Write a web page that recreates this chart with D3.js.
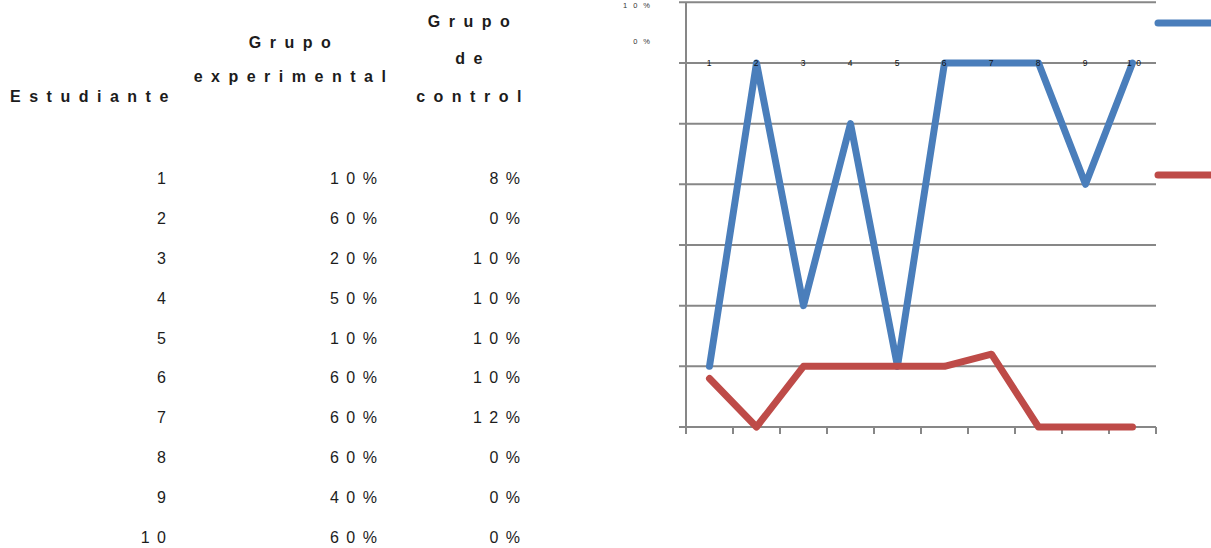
<!DOCTYPE html>
<html>
<head>
<meta charset="utf-8">
<script src="https://cdn.jsdelivr.net/npm/d3@7"></script>
<style>
  html, body { margin: 0; padding: 0; background: #fff; }
  svg { display: block; }
</style>
</head>
<body>
<svg id="chart" width="1211" height="548"></svg>
<script>
// Students and their scores per group
const students = [1, 2, 3, 4, 5, 6, 7, 8, 9, 10];
const experimental = [0.10, 0.60, 0.20, 0.50, 0.10, 0.60, 0.60, 0.60, 0.40, 0.60];
const control = [0.08, 0.00, 0.10, 0.10, 0.10, 0.10, 0.12, 0.00, 0.00, 0.00];
const headers = [
  ["Estudiante"],
  ["Grupo", "experimental"],
  ["Grupo", "de", "control"]
];
const yTickLabels = ["10%", "0%"];
const yGridValues = [0, 0.1, 0.2, 0.3, 0.4, 0.5, 0.6, 0.7];

const svg = d3.select("#chart");
const font = "'Liberation Sans', Arial, sans-serif";
const ink = "#1c1c1c";

// ---------- Table ----------
const table = svg.append("g").attr("font-family", font).attr("fill", ink);

const colRight = [166, 377, 520];
const rowY = d3.scaleLinear().domain([0, 9]).range([184, 543]);
const fmtPct = v => Math.round(v * 100) + "%";

// header lines
const headerPos = [
  { x: 10, anchor: "start", ys: [102] },
  { x: 290, anchor: "middle", ys: [48, 82] },
  { x: 469, anchor: "middle", ys: [27, 64, 102] }
];
headers.forEach((lines, c) => {
  const p = headerPos[c];
  lines.forEach((t, i) => {
    table.append("text")
      .attr("x", p.anchor === "middle" ? p.x + 4 : p.x)
      .attr("y", p.ys[i])
      .attr("text-anchor", p.anchor)
      .attr("font-size", 16)
      .attr("font-weight", "bold")
      .attr("letter-spacing", 8.5)
      .text(t);
  });
});

// body rows
const rows = students.map((s, i) => [String(s), fmtPct(experimental[i]), fmtPct(control[i])]);
rows.forEach((r, i) => {
  r.forEach((cell, c) => {
    table.append("text")
      .attr("x", colRight[c] + 7.5)
      .attr("y", rowY(i))
      .attr("text-anchor", "end")
      .attr("font-size", 16)
      .attr("letter-spacing", 7.5)
      .text(cell);
  });
});

// ---------- Line chart ----------
const x = d3.scaleBand().domain(students).range([686, 1156]).padding(0);
const y = d3.scaleLinear().domain([0, 0.6]).range([427, 63]);
const gridColor = "#878787";
const plot = svg.append("g");

// horizontal gridlines
plot.selectAll("line.grid").data(yGridValues).join("line")
  .attr("class", "grid")
  .attr("x1", 679).attr("x2", 1156)
  .attr("y1", d => y(d)).attr("y2", d => y(d))
  .attr("stroke", gridColor).attr("stroke-width", 2);

// vertical axis
plot.append("line")
  .attr("x1", 686).attr("x2", 686)
  .attr("y1", y(0.7)).attr("y2", y(0) + 7)
  .attr("stroke", gridColor).attr("stroke-width", 2);

// category ticks along the bottom
const tickXs = students.map(s => x(s)).concat([x(10) + x.bandwidth()]);
plot.selectAll("line.xtick").data(tickXs).join("line")
  .attr("class", "xtick")
  .attr("x1", d => d).attr("x2", d => d)
  .attr("y1", y(0)).attr("y2", y(0) + 7)
  .attr("stroke", gridColor).attr("stroke-width", 2);

// y axis labels
[[8, yTickLabels[0]], [44, yTickLabels[1]]].forEach(([yy, t]) => {
  svg.append("text")
    .attr("x", 650 + 6).attr("y", yy)
    .attr("text-anchor", "end")
    .attr("font-family", font)
    .attr("font-size", 7.5)
    .attr("letter-spacing", 6)
    .attr("fill", "#333")
    .text(t);
});

const line = d3.line()
  .x((d, i) => x(students[i]) + x.bandwidth() / 2)
  .y(d => y(d));

const series = [
  { values: experimental, color: "#4a7ebb", legendY: 23 },
  { values: control, color: "#be4b48", legendY: 175 }
];

series.forEach(s => {
  plot.append("path")
    .attr("d", line(s.values))
    .attr("fill", "none")
    .attr("stroke", s.color)
    .attr("stroke-width", 7)
    .attr("stroke-linejoin", "round")
    .attr("stroke-linecap", "round");
  // legend swatch
  svg.append("line")
    .attr("x1", 1158).attr("x2", 1215)
    .attr("y1", s.legendY).attr("y2", s.legendY)
    .attr("stroke", s.color)
    .attr("stroke-width", 7)
    .attr("stroke-linecap", "round");
});

// category labels sit on top of the lines
plot.selectAll("text.cat").data(students).join("text")
  .attr("class", "cat")
  .attr("x", d => x(d) + x.bandwidth() / 2 + (String(d).length > 1 ? 2 : 0))
  .attr("y", y(0.6) + 3)
  .attr("text-anchor", "middle")
  .attr("font-family", font)
  .attr("font-size", 8.5)
  .attr("letter-spacing", String(1).length)
  .attr("fill", "#111")
  .text(d => String(d).split("").join(" "));
</script>
</body>
</html>
